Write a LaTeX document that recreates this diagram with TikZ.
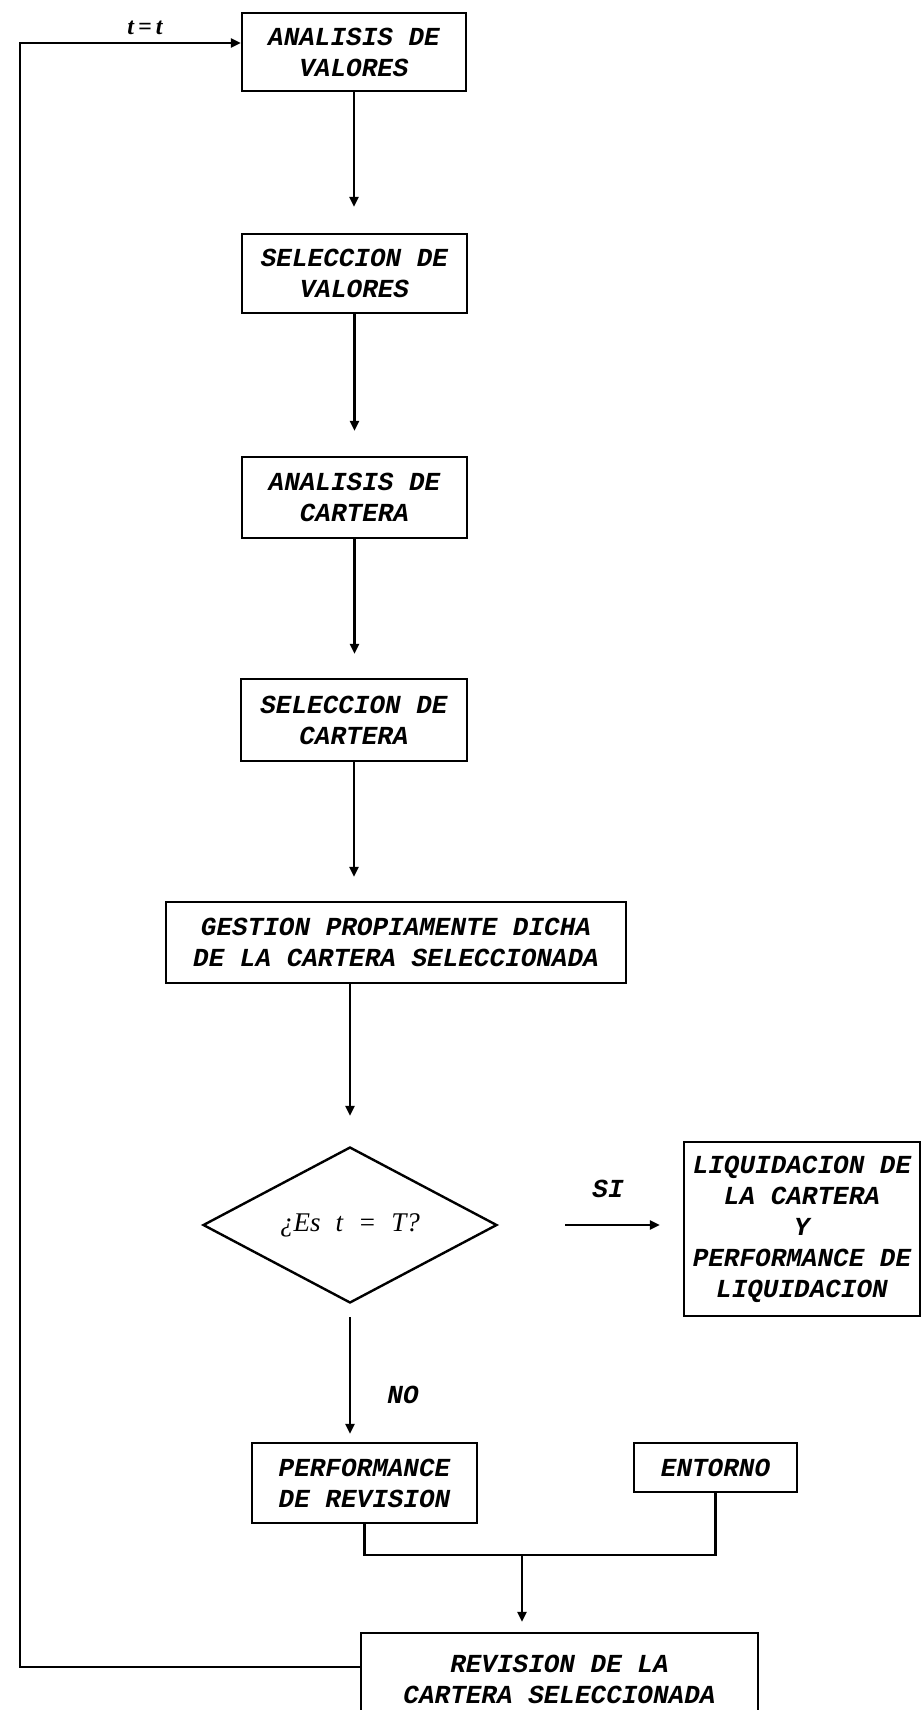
\documentclass[tikz,border=0pt]{standalone}
\usepackage{fontspec}
\newfontfamily\boxfont{Liberation Mono}
\newfontfamily\serffont{Liberation Serif}
\usetikzlibrary{arrows.meta,shapes.geometric,calc}
\begin{document}
\begin{tikzpicture}[x=1pt,y=-1pt,
  line join=miter,
  box/.style={draw, line width=2.4pt, font=\boxfont\bfseries\itshape\fontsize{26}{31}\selectfont, align=center, inner sep=0pt, anchor=center},
  lbl/.style={font=\boxfont\bfseries\itshape\fontsize{26}{31}\selectfont, inner sep=0pt},
  arr/.style={line width=2.4pt, -{Triangle[length=10pt,width=9pt]}},
  conn/.style={line width=2.4pt}
]
\useasboundingbox (0,0) rectangle (922,1710);
\clip (0,0) rectangle (922,1710);
\fill[white] (0,0) rectangle (922,1710);

\node[box, minimum width=224pt, minimum height=78pt] (b1) at (354,52) {ANALISIS DE\\VALORES};
\node[box, minimum width=225pt, minimum height=79pt] (b2) at (354.5,273.5) {SELECCION DE\\VALORES};
\node[box, minimum width=225pt, minimum height=81pt] (b3) at (354.5,497.5) {ANALISIS DE\\CARTERA};
\node[box, minimum width=226pt, minimum height=82pt] (b4) at (354,720) {SELECCION DE\\CARTERA};
\node[box, minimum width=460pt, minimum height=81pt] (b5) at (396,942.5) {GESTION PROPIAMENTE DICHA\\DE LA CARTERA SELECCIONADA};
\node[draw, diamond, line width=2.4pt, minimum width=294pt, minimum height=156pt, inner sep=0pt] (d) at (350,1225) {};
\node[font=\serffont\itshape\fontsize{27}{30}\selectfont, inner sep=0pt] (dt) at (d.center) {¿Es\hspace{15pt}t\hspace{15pt}=\hspace{15pt}T?};
\node[box, minimum width=236pt, minimum height=174pt] (liq) at (802,1229) {LIQUIDACION DE\\LA CARTERA\\Y\\PERFORMANCE DE\\LIQUIDACION};
\node[box, minimum width=225pt, minimum height=80pt] (perf) at (364.5,1483) {PERFORMANCE\\DE REVISION};
\node[box, minimum width=163pt, minimum height=49pt] (ent) at (715.5,1467.5) {ENTORNO};
\node[box, minimum width=397pt, minimum height=92pt] (rev) at (559.5,1679) {REVISION DE LA\\CARTERA SELECCIONADA};

\node[lbl] (si) at (608,1189) {SI};
\node[lbl] (no) at (403,1395) {NO};
\node[font=\serffont\bfseries\itshape\fontsize{24}{28}\selectfont, inner sep=0pt] (tl) at (145,28) {t\,=\,t};

\coordinate (m) at (522,1555);
\coordinate (lc) at (20,1667);
\coordinate (tc) at (20,43);

\draw[arr, shorten >=26pt] (b1.south) -- (b1.south |- b2.north);
\draw[arr, shorten >=25pt] (b2.south) -- (b2.south |- b3.north);
\draw[arr, shorten >=24pt] (b3.south) -- (b3.south |- b4.north);
\draw[arr, shorten >=24pt] (b4.south) -- (b4.south |- b5.north);
\draw[arr, shorten >=30pt] (d.north |- b5.south) -- (d.north);
\draw[arr, shorten <=13pt, shorten >=8pt] (d.south) -- (d.south |- perf.north);
\draw[arr, shorten <=67pt, shorten >=23pt] (d.east) -- (d.east -| liq.west);
\draw[conn] (perf.south) |- (m) -| (ent.south);
\draw[arr, shorten >=10pt] (m) -- (m |- rev.north);
\draw[arr] (rev.west |- lc) -- (lc) -- (tc) -- (tc -| b1.west);
\end{tikzpicture}
\end{document}
